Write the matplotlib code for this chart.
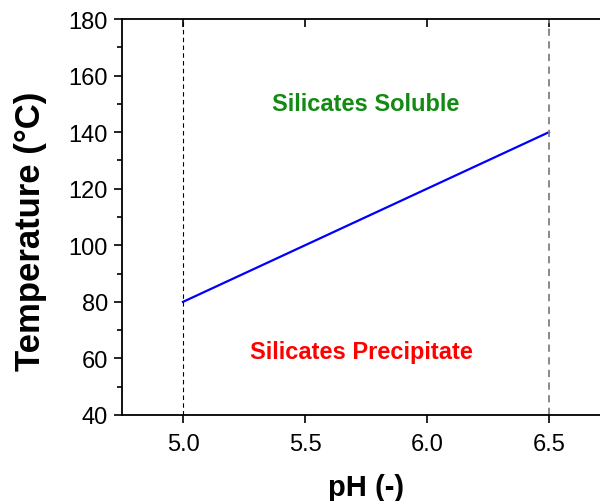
import matplotlib
matplotlib.use("Agg")
import matplotlib.pyplot as plt

# data
ph = [5.0, 6.5]
temp = [80, 140]
boundary_ph = [5.0, 6.5]
y_ticks = [40, 60, 80, 100, 120, 140, 160, 180]
x_ticks = [5.0, 5.5, 6.0, 6.5]
region_labels = ["Silicates Soluble", "Silicates Precipitate"]
region_pos = [(5.75, 150), (5.73, 62.5)]
region_colors = ["#138a13", "#ff0000"]

plt.rcParams["font.family"] = ["Liberation Sans", "DejaVu Sans"]

fig = plt.figure(figsize=(6.0, 5.02), dpi=100)
# axes runs past the right edge of the canvas, like the cropped original
ax = fig.add_axes([122 / 600, (502 - 416) / 502, 488 / 600, 396 / 502])

ax.plot(ph, temp, color="#0000ff", lw=1.6)
ax.axvline(boundary_ph[0], color="black", lw=0.8, ls=(0, (4, 3)))
ax.axvline(boundary_ph[1], color="#808080", lw=1.3, ls=(0, (4, 3)))

for lab, (x, y), c in zip(region_labels, region_pos, region_colors):
    ax.text(x, y, lab, color=c, fontsize=17, fontweight="bold",
            ha="center", va="center")

ax.set_xlim(4.75, 6.75)
ax.set_ylim(40, 180)
ax.set_xticks(x_ticks)
ax.set_xticklabels(["%.1f" % v for v in x_ticks])
ax.set_yticks(y_ticks)
ax.set_yticks(range(50, 180, 20), minor=True)

ax.tick_params(axis="both", which="major", direction="out", length=6, width=1.2,
               labelsize=17, pad=4)
ax.tick_params(axis="y", which="minor", direction="out", length=3.5, width=1.2)
ax.tick_params(axis="x", which="major", top=True, labeltop=False)
ax.tick_params(axis="x", which="major", pad=7)
# top ticks point inward
for t in ax.xaxis.get_major_ticks():
    t.tick2line.set_marker(matplotlib.lines.TICKDOWN)

for s in ax.spines.values():
    s.set_linewidth(1.3)

ax.set_xlabel("pH (-)", fontsize=21, fontweight="bold", labelpad=13)
ax.set_ylabel("Temperature (°C)", fontsize=25, fontweight="bold")
ax.yaxis.set_label_coords(-0.153, 0.466)

fig.savefig("out.png", dpi=100)
